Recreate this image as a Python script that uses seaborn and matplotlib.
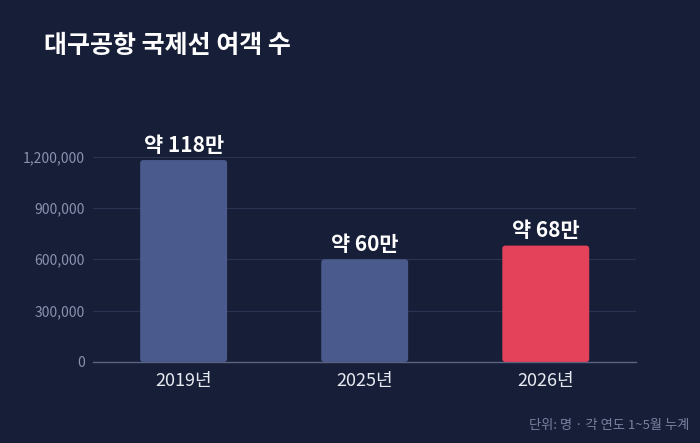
import numpy as np
import pandas as pd
import matplotlib
matplotlib.use('Agg')
import matplotlib.pyplot as plt
import seaborn as sns
from matplotlib.patches import FancyBboxPatch
from matplotlib.ticker import FuncFormatter

years = ["2019년", "2025년", "2026년"]
passengers = [1180000, 600000, 680000]
bar_labels = ["약 118만", "약 60만", "약 68만"]
bar_colors = ["#4a5a8c", "#4a5a8c", "#e4415b"]
yticks = [0, 300000, 600000, 900000, 1200000]

bg = "#171e37"

sns.set_theme(style="white")
plt.rcParams['font.family'] = ['Noto Sans CJK KR', 'DejaVu Sans']

df = pd.DataFrame({"year": years, "passengers": passengers})

fig = plt.figure(figsize=(7, 4.43), dpi=100)
fig.patch.set_facecolor(bg)
ax = fig.add_axes([0.133, 0.183, 0.776, 0.56])
ax.set_facecolor(bg)

sns.barplot(data=df, x="year", y="passengers", hue="year", palette=bar_colors,
            saturation=1, width=0.48, legend=False, ax=ax, zorder=3)

ax.set_xlim(-0.5, 2.5)
ax.set_ylim(0, 1450000)
ax.set_yticks(yticks)
ax.yaxis.set_major_formatter(FuncFormatter(lambda v, p: f"{int(v):,}"))
ax.grid(axis='y', color="#2a3352", linewidth=0.8, zorder=0)
ax.set_axisbelow(True)

for s in ["top", "right", "left"]:
    ax.spines[s].set_visible(False)
ax.spines["bottom"].set_color("#5b6282")
ax.spines["bottom"].set_linewidth(1.0)

ax.tick_params(axis='y', colors="#8a92b0", labelsize=10, length=0, pad=6)
ax.tick_params(axis='x', colors="#e8eaf2", labelsize=13, length=0, pad=7)
ax.set_xlabel("")
ax.set_ylabel("")

# rounded bars
fig.canvas.draw()
bbox = ax.get_window_extent()
px_x = bbox.width / 3.0
px_y = bbox.height / 1450000
r = 0.018
aspect = (r * px_x / px_y) / r
for patch, lab in zip(list(ax.patches), bar_labels):
    x, y = patch.get_x(), patch.get_y()
    w, h = patch.get_width(), patch.get_height()
    fc = patch.get_facecolor()
    patch.remove()
    fb = FancyBboxPatch((x, y), w, h, boxstyle=f"round,pad=0,rounding_size={r}",
                        mutation_aspect=aspect, facecolor=fc, edgecolor="none", zorder=3)
    ax.add_patch(fb)
    ax.annotate(lab, (x + w / 2, y + h), xytext=(0, 3), textcoords="offset points",
                ha="center", va="bottom", color="white", fontsize=15, fontweight="bold")

fig.text(44 / 700, 1 - 46 / 443, "대구공항 국제선 여객 수", color="white",
         fontsize=18, fontweight="bold", ha="left", va="center")
fig.text(689 / 700, 1 - 426 / 443, "단위: 명 · 각 연도 1~5월 누계", color="#7a82a2",
         fontsize=9.5, ha="right", va="center")

plt.savefig("out.png", dpi=100, facecolor=bg)
plt.close()
